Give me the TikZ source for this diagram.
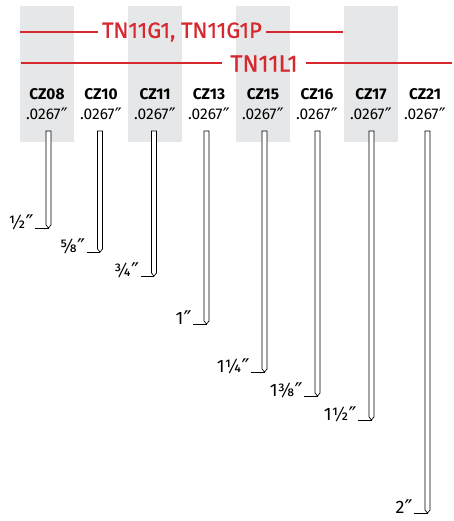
\documentclass[tikz,border=0pt]{standalone}
\usepackage{fontspec}
\setmainfont{Fira Sans}
\newfontfamily\primefont{DejaVu Sans}
\newfontfamily\toolfont[FakeBold=0.8]{Fira Sans}
\newcommand{\inchmark}{{\primefont\kern0.3pt\raisebox{-0.14em}[0.7em][0pt]{\scalebox{1.2}{″}}}}

\definecolor{tnred}{HTML}{D6282F}
\definecolor{colgray}{HTML}{E6E7E8}

\tikzset{
  nail/.style={draw=black, line width=0.7pt, fill=white, line join=miter},
  leader/.style={draw=black, line width=0.7pt},
  sizelbl/.style={anchor=base east, inner sep=1pt, font=\fontsize{18}{18}\selectfont},
  czname/.style={inner sep=0pt, font=\bfseries\fontsize{15.5}{15.5}\selectfont},
  czdiam/.style={inner sep=0pt, font=\fontsize{15.5}{15.5}\selectfont},
  toollbl/.style={text=tnred, inner sep=4pt, font=\toolfont\fontsize{22}{22}\selectfont},
  toolline/.style={draw=tnred, line width=2pt}
}

\begin{document}
\begin{tikzpicture}[x=1pt,y=-1pt]
            \useasboundingbox (0,0) rectangle (454,521);

            % gray columns
            \fill[colgray] (20,6) rectangle (74,142);
            \fill[colgray] (128,6) rectangle (182,142);
            \fill[colgray] (236,6) rectangle (290,142);
            \fill[colgray] (344,6) rectangle (398,142);

            % tool lines
            \node[toollbl] (g1) at (182,32) {TN11G1, TN11G1P};
            \coordinate (g1l) at (20,32);
            \coordinate (g1r) at (343,32);
            \draw[toolline] (g1l) -- (g1.west);
            \draw[toolline] (g1.east) -- (g1r);

            \node[toollbl, inner sep=8pt, font=\toolfont\fontsize{23.5}{23.5}\selectfont] (l1) at (264,63.5) {TN11L1};
            \coordinate (l1l) at (21,63.5);
            \coordinate (l1r) at (452,63.5);
            \draw[toolline] (l1l) -- (l1.west);
            \draw[toolline] (l1.east) -- (l1r);

            % CZ08
            \node[czname] (n08) at (47,94) {CZ08};
            \node[czdiam] (d08) at (47,114) {.0267\inchmark};
            \draw[nail] (46,131) -- (46,225) -- (48.5,228) -- (51,225) -- (51,131) -- cycle;
            \coordinate (t08) at (48.5,228);
            \node[sizelbl] (s08) at (35,228) {½\inchmark};
            \draw[leader] (s08.base east) -- (t08);

            % CZ10
            \node[czname] (n10) at (101,94) {CZ10};
            \node[czdiam] (d10) at (101,114) {.0267\inchmark};
            \draw[nail] (97.5,131) -- (97.5,249) -- (100,252) -- (102.5,249) -- (102.5,131) -- cycle;
            \coordinate (t10) at (100,252);
            \node[sizelbl] (s10) at (86.5,252) {⅝\inchmark};
            \draw[leader] (s10.base east) -- (t10);

            % CZ11
            \node[czname] (n11) at (155,94) {CZ11};
            \node[czdiam] (d11) at (155,114) {.0267\inchmark};
            \draw[nail] (151.5,131) -- (151.5,273) -- (154,276) -- (156.5,273) -- (156.5,131) -- cycle;
            \coordinate (t11) at (154,276);
            \node[sizelbl] (s11) at (140.5,276) {¾\inchmark};
            \draw[leader] (s11.base east) -- (t11);

            % CZ13
            \node[czname] (n13) at (209,94) {CZ13};
            \node[czdiam] (d13) at (209,114) {.0267\inchmark};
            \draw[nail] (204,131) -- (204,321) -- (206.5,324) -- (209,321) -- (209,131) -- cycle;
            \coordinate (t13) at (206.5,324);
            \node[sizelbl] (s13) at (193,324) {1\inchmark};
            \draw[leader] (s13.base east) -- (t13);

            % CZ15
            \node[czname] (n15) at (263,94) {CZ15};
            \node[czdiam] (d15) at (263,114) {.0267\inchmark};
            \draw[nail] (262,131) -- (262,369) -- (264.5,372) -- (267,369) -- (267,131) -- cycle;
            \coordinate (t15) at (264.5,372);
            \node[sizelbl] (s15) at (251,372) {1¼\inchmark};
            \draw[leader] (s15.base east) -- (t15);

            % CZ16
            \node[czname] (n16) at (317,94) {CZ16};
            \node[czdiam] (d16) at (317,114) {.0267\inchmark};
            \draw[nail] (315,131) -- (315,393) -- (317.5,396) -- (320,393) -- (320,131) -- cycle;
            \coordinate (t16) at (317.5,396);
            \node[sizelbl] (s16) at (304,396) {1⅜\inchmark};
            \draw[leader] (s16.base east) -- (t16);

            % CZ17
            \node[czname] (n17) at (371,94) {CZ17};
            \node[czdiam] (d17) at (371,114) {.0267\inchmark};
            \draw[nail] (369,131) -- (369,417) -- (371.5,420) -- (374,417) -- (374,131) -- cycle;
            \coordinate (t17) at (371.5,420);
            \node[sizelbl] (s17) at (358,420) {1½\inchmark};
            \draw[leader] (s17.base east) -- (t17);

            % CZ21
            \node[czname] (n21) at (425,94) {CZ21};
            \node[czdiam] (d21) at (425,114) {.0267\inchmark};
            \draw[nail] (425,131) -- (425,510) -- (427.5,513) -- (430,510) -- (430,131) -- cycle;
            \coordinate (t21) at (427.5,513);
            \node[sizelbl] (s21) at (414,513) {2\inchmark};
            \draw[leader] (s21.base east) -- (t21);
        \end{tikzpicture}
\end{document}
